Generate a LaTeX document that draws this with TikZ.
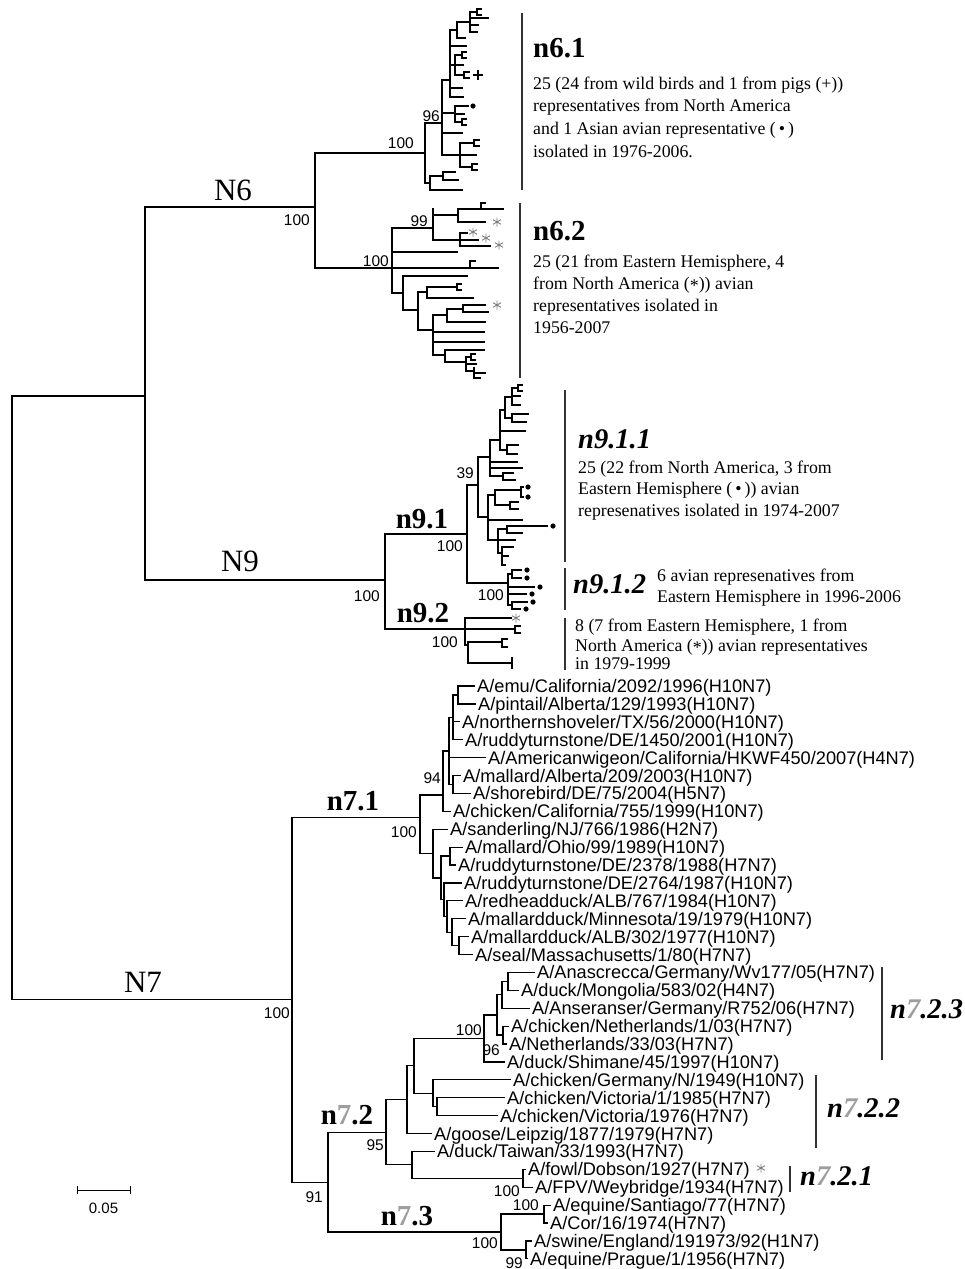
\documentclass[tikz,border=0pt]{standalone}
\usepackage{fontspec}
\setmainfont{Liberation Serif}
\newfontfamily\lsans{Liberation Sans}
\newcommand\tvs[3]{\draw[tbr] (#1,#2) -- (#1,#3);}
\newcommand\ths[3]{\draw[tbr] (#1,#3) -- (#2,#3);}
\newcommand\tfork[3]{\draw[tbr] (#1,#2-3) -- (#1,#2+3); \draw[tbr] (#1,#2-3) -- (#1+#3,#2-3); \draw[tbr] (#1,#2+3) -- (#1+#3,#2+3);}
\newcommand\tdot[2]{\fill (#1,#2) circle (2.6pt);}
\newcommand\tast[2]{\draw[astr] (#1,#2) +(0,-4.5) -- +(0,4.5) +(-4,-2.3) -- +(4,2.3) +(-4,2.3) -- +(4,-2.3);}
\newcommand\gs{\textcolor{black!38}{7}}
\begin{document}
\begin{tikzpicture}[x=1pt,y=-1pt,
 tbr/.style={line width=1.2pt,line cap=rect},
 cbar/.style={line width=1.8pt,black!80},
 astr/.style={line width=0.9pt,black!50},
 leaflab/.style={font=\lsans\fontsize{18.2}{20}\selectfont,anchor=base west,inner sep=0pt},
 bstrap/.style={font=\lsans\fontsize{15.5}{17}\selectfont,anchor=base east,inner sep=0pt},
 desctxt/.style={font=\fontsize{17.8}{22}\selectfont,anchor=base west,inner sep=0pt},
 grplab/.style={font=\fontsize{31}{34}\selectfont,anchor=base,inner sep=0pt},
 cladelab/.style={font=\bfseries\fontsize{29}{32}\selectfont,anchor=base,inner sep=0pt},
 cladelabw/.style={cladelab,anchor=base west},
 italab/.style={font=\bfseries\itshape\fontsize{28.5}{32}\selectfont,anchor=base west,inner sep=0pt}]
\fill[white] (0,0) rectangle (965,1269);
\useasboundingbox (0,0) rectangle (965,1269);

% ---------- backbone ----------
\tvs{12}{396}{999.7}
\ths{12}{145}{396}
\tvs{145}{207}{580}
\ths{145}{315}{207}
\ths{145}{385}{580}
\ths{12}{292}{999.7}
\node[grplab] (N6) at (233,200) {N6};
\node[grplab] (N9) at (240,571) {N9};
\node[grplab] (N7) at (143,992) {N7};
\node[bstrap] at (310,225) {100};
\node[bstrap] at (380,601) {100};
\node[bstrap] at (290,1018) {100};

% ---------- N6 ----------
\tvs{315}{153}{268}
% n6.1
\ths{315}{425}{153}
\node[bstrap] at (414,148) {100};
\tvs{425}{123}{183}
\ths{425}{442}{123}
\node[bstrap] at (440,121) {96};
\tvs{442}{80}{155}
\ths{442}{460}{155}
\tvs{460}{143}{167}
\ths{460}{474}{143} \tfork{474}{143}{5}
\ths{460}{476}{155}
\ths{460}{472}{167} \tfork{472}{167}{5}
\ths{442}{462}{133}
\ths{442}{455}{113}
\tvs{455}{106}{122}
\ths{455}{468}{106} \tdot{473}{106}
\ths{455}{464}{114}
\ths{455}{462}{122} \tfork{462}{122}{4}
\ths{442}{450}{80}
\tvs{450}{30}{97}
\ths{450}{457}{30}
\tvs{457}{22}{38}
\ths{457}{470}{22}
\tvs{470}{12}{32}
\ths{470}{477}{12} \tfork{477}{12}{4}
\ths{470}{488}{18}
\ths{470}{478}{25}
\ths{470}{477}{32}
\ths{457}{465}{38}
\ths{450}{466}{46}
\ths{450}{455}{65}
\tvs{455}{55}{75}
\ths{455}{462}{55} \tfork{462}{55}{4}
\ths{455}{463}{65}
\ths{455}{464}{75} \tfork{464}{75}{5}
\draw[line width=1.1pt] (473,75) -- (483,75) (478,70) -- (478,80);
\ths{450}{462}{88}
\ths{450}{463}{97}
\ths{425}{430}{183}
\tvs{430}{176}{190}
\ths{430}{443}{176}
\tvs{443}{172}{180}
\ths{443}{455}{172}
\ths{443}{458}{180}
\ths{430}{462}{190}
% n6.2
\ths{315}{392}{268}
\node[bstrap] at (389,266) {100};
\tvs{392}{228}{293}
\ths{392}{433}{228}
\node[bstrap] at (428,226) {99};
\tvs{433}{209}{240}
\ths{433}{458}{215}
\tvs{458}{209}{222}
\ths{458}{481}{209}
\tvs{481}{203}{209}
\ths{481}{485}{203}
\ths{481}{503}{209}
\ths{458}{485}{222} \tast{497}{222}
\ths{433}{460}{240}
\tvs{460}{233}{246}
\ths{460}{467}{233} \tast{473}{232}
\ths{460}{478}{240} \tast{486}{238}
\ths{460}{490}{246} \tast{499}{245}
\ths{392}{457}{252}
\ths{392}{470}{268}
\tvs{470}{261}{268}
\ths{470}{475}{261}
\ths{470}{498}{268}
\ths{392}{403}{293}
\tvs{403}{276}{310}
\ths{403}{467}{276}
\ths{403}{418}{310}
\tvs{418}{292}{330}
\ths{418}{427}{292}
\tvs{427}{287}{298}
\ths{427}{457}{287} \tfork{457}{287}{4}
\ths{427}{473}{298}
\ths{418}{433}{330}
\tvs{433}{315}{355}
\ths{433}{447}{315}
\tvs{447}{309}{322}
\ths{447}{463}{309}
\tvs{463}{305}{312}
\ths{463}{485}{305} \tast{497}{305}
\ths{463}{488}{312}
\ths{447}{485}{322}
\ths{433}{484}{332}
\ths{433}{484}{342}
\ths{433}{445}{355}
\tvs{445}{350}{362}
\ths{445}{484}{350}
\ths{445}{466}{362}
\tvs{466}{357}{371}
\ths{466}{471}{357} \tfork{471}{357}{4}
\ths{466}{476}{364}
\ths{466}{474}{371}
\tvs{474}{368}{378}
\ths{474}{485}{373}
\ths{474}{480}{378}
% labels n6
\draw[cbar] (522,13) -- (522,190);
\draw[cbar] (520,203) -- (520,378);
\node[cladelabw] (n61) at (533,57) {n6.1};
\node[desctxt] at (533,89) {25 (24 from wild birds and 1 from pigs (+))};
\node[desctxt] at (533,111) {representatives from North America};
\node[desctxt] at (533,134) {and 1 Asian avian representative (\,•\,)};
\node[desctxt] at (533,157) {isolated in 1976-2006.};
\node[cladelabw] (n62) at (533,240) {n6.2};
\node[desctxt] at (533,267) {25 (21 from Eastern Hemisphere, 4};
\node[desctxt] at (533,289) {from North America (\raisebox{-0.3ex}{*})) avian};
\node[desctxt] at (533,311) {representatives isolated in};
\node[desctxt] at (533,333) {1956-2007};

% ---------- N9 ----------
\tvs{385}{534}{629}
\ths{385}{467}{534}
\node[cladelab] (n91) at (422,528) {n9.1};
\node[bstrap] at (463,551) {100};
\tvs{467}{485}{583}
\ths{467}{478}{485}
\node[bstrap] at (474,478) {39};
\tvs{478}{457}{517}
\ths{478}{490}{457}
\tvs{490}{440}{476}
\ths{490}{500}{440}
\tvs{500}{410}{450}
\ths{500}{505}{410}
\tvs{505}{397}{418}
\ths{505}{512}{397}
\tvs{512}{388}{405}
\ths{512}{518}{388} \tfork{518}{388}{4}
\ths{512}{520}{396}
\ths{512}{520}{405}
\ths{505}{512}{418}
\tvs{512}{414}{422}
\ths{512}{528}{414}
\ths{512}{526}{422}
\ths{500}{525}{431}
\ths{500}{507}{450}
\tvs{507}{445}{454}
\ths{507}{518}{445}
\ths{507}{517}{454}
\ths{490}{517}{462}
\ths{490}{522}{468}
\ths{490}{503}{476}
\tvs{503}{473}{480}
\ths{503}{513}{473}
\ths{503}{515}{480}
\ths{478}{488}{517}
\tvs{488}{495}{540}
\ths{488}{495}{495}
\tvs{495}{490}{505}
\ths{495}{521}{490}
\tvs{521}{487}{497}
\ths{521}{523}{487}
\ths{521}{523}{497}
\tdot{528}{487} \tdot{528}{497}
\ths{495}{510}{505}
\tvs{510}{502}{509}
\ths{510}{518}{502}
\ths{510}{518}{509}
\ths{488}{522}{520}
\ths{488}{498}{540}
\tvs{498}{529}{553}
\ths{498}{507}{529}
\tvs{507}{526}{533}
\ths{507}{547}{526} \tdot{553}{526}
\ths{507}{522}{533}
\ths{498}{515}{540}
\ths{498}{502}{553}
\tvs{502}{547}{565}
\ths{502}{513}{547}
\ths{502}{508}{556}
\ths{502}{505}{565}
% n9.1.2
\ths{467}{508}{583}
\node[bstrap] at (504,600) {100};
\tvs{508}{574}{605}
\ths{508}{512}{574}
\tvs{512}{570}{578}
\ths{512}{521}{570}
\ths{512}{521}{578}
\tdot{527}{570} \tdot{527}{578}
\ths{508}{534}{587} \tdot{540}{587}
\ths{508}{526}{594} \tdot{532}{594}
\ths{508}{512}{605}
\tvs{512}{602}{609}
\ths{512}{527}{602}
\ths{512}{520}{609}
\tdot{533}{602} \tdot{526}{609}
% n9.2
\ths{385}{465}{629}
\node[cladelab] (n92) at (423,622) {n9.2};
\node[bstrap] at (458,647) {100};
\tvs{465}{618}{645}
\ths{465}{511}{618} \tast{516}{618}
\ths{465}{515}{629}
\tvs{515}{626}{633}
\ths{515}{520}{626}
\ths{515}{520}{633}
\ths{465}{468}{645}
\tvs{468}{642}{663}
\ths{468}{502}{642}
\tvs{502}{639}{647}
\ths{502}{507}{639}
\ths{502}{507}{647}
\ths{468}{512}{663}
\tvs{512}{658}{668}
% labels n9
\draw[cbar] (565,390) -- (565,562);
\draw[cbar] (565,568) -- (565,610);
\draw[cbar] (565,618) -- (565,670);
\node[italab] (n911) at (578,448) {n9.1.1};
\node[desctxt] at (578,473) {25 (22 from North America, 3 from};
\node[desctxt] at (578,494) {Eastern Hemisphere (\,•\,)) avian};
\node[desctxt] at (578,516) {represenatives isolated in 1974-2007};
\node[italab] (n912) at (573,593) {n9.1.2};
\node[desctxt] at (657,581) {6 avian represenatives from};
\node[desctxt] at (657,602) {Eastern Hemisphere in 1996-2006};
\node[desctxt] at (575,631) {8 (7 from Eastern Hemisphere, 1 from};
\node[desctxt] at (575,651) {North America (\raisebox{-0.3ex}{*})) avian representatives};
\node[desctxt] at (575,669) {in 1979-1999};

% ---------- N7 ----------
\tvs{292}{817.3}{1182.1}
% n7.1
\ths{292}{420}{817.3}
\node[cladelab] (n71) at (353,810) {n7.1};
\node[bstrap] at (417,837) {100};
\tvs{420}{795}{853.5}
\ths{420}{443}{795}
\node[bstrap] at (441,783) {94};
\tvs{443}{750.9}{811.3}
\ths{443}{449}{750.9}
\tvs{449}{717.3}{784.5}
\ths{449}{453}{717.3}
\tvs{453}{695}{739.7}
\ths{453}{458}{695}
\tvs{458}{686}{703.9}
\ths{458}{474}{686}
\ths{458}{475}{703.9}
\ths{453}{459}{721.8}
\ths{453}{462}{739.7}
\ths{449}{485}{757.6}
\ths{449}{453}{784.5}
\tvs{453}{775.5}{793.4}
\ths{453}{460}{775.5}
\ths{453}{470}{793.4}
\ths{443}{450}{811.3}
\ths{420}{433}{853.5}
\tvs{433}{829.2}{877.9}
\ths{433}{447}{829.2}
\ths{433}{441}{877.9}
\tvs{441}{856}{899.7}
\ths{441}{450}{856}
\tvs{450}{847.1}{865}
\ths{450}{462}{847.1}
\ths{450}{455}{865}
\ths{441}{444}{899.7}
\tvs{444}{882.9}{916.5}
\ths{444}{461}{882.9}
\ths{444}{447}{916.5}
\tvs{447}{900.8}{932.1}
\ths{447}{462}{900.8}
\ths{447}{452}{932.1}
\tvs{452}{918.7}{945.5}
\ths{452}{465}{918.7}
\ths{452}{459}{945.5}
\tvs{459}{936.6}{954.5}
\ths{459}{468}{936.6}
\ths{459}{472}{954.5}
% n7.2 / n7.3
\ths{292}{328}{1182.1}
\node[bstrap] at (323,1202) {91};
\tvs{328}{1132.2}{1232}
\ths{328}{386}{1132.2}
\node[cladelab] (n72) at (347,1124) {n\gs.2};
\node[bstrap] at (384,1150) {95};
\tvs{386}{1099.6}{1164.8}
\ths{386}{407}{1099.6}
\tvs{407}{1065.8}{1133.5}
\ths{407}{414}{1065.8}
\tvs{414}{1038.4}{1093.2}
\ths{414}{484}{1038.4}
\node[bstrap] at (482,1035) {100};
\tvs{484}{1014.9}{1061.9}
\ths{484}{497}{1014.9}
\node[bstrap] at (500,1055) {96};
\tvs{497}{994.7}{1035}
\ths{497}{502}{994.7}
\tvs{502}{981.3}{1008.2}
\ths{502}{508}{981.3}
\tvs{508}{972.4}{990.3}
\ths{508}{534}{972.4}
\ths{508}{518}{990.3}
\ths{502}{529}{1008.2}
\ths{497}{503}{1035}
\tvs{503}{1026.1}{1044}
\ths{503}{508}{1026.1}
\ths{503}{506}{1044}
\ths{484}{504}{1061.9}
\ths{414}{433}{1093.2}
\tvs{433}{1079.8}{1106.6}
\ths{433}{510}{1079.8}
\ths{433}{437}{1106.6}
\tvs{437}{1097.7}{1115.6}
\ths{437}{504}{1097.7}
\ths{437}{497}{1115.6}
\ths{407}{431}{1133.5}
\ths{386}{412}{1164.8}
\tvs{412}{1151.4}{1178.2}
\ths{412}{434}{1151.4}
\ths{412}{523}{1178.2}
\tvs{523}{1169.3}{1187.2}
\ths{523}{525}{1169.3}
\ths{523}{532}{1187.2}
\node[bstrap] at (520,1196) {100};
\ths{328}{501}{1232}
\node[cladelab] (n73) at (407,1225) {n\gs.3};
\node[bstrap] at (498,1248) {100};
\tvs{501}{1214}{1250}
\ths{501}{544}{1214}
\node[bstrap] at (539,1210) {100};
\tvs{544}{1205.1}{1223}
\ths{544}{550}{1205.1}
\ths{544}{547}{1223}
\ths{501}{526}{1250}
\node[bstrap] at (523,1268) {99};
\tvs{526}{1240.9}{1258.8}
\ths{526}{531}{1240.9}
\ths{526}{527}{1258.8}

% leaves
\node[leaflab] (l0) at (477,692.5) {A/emu/California/2092/1996(H10N7)};
\node[leaflab] (l1) at (478,710.4) {A/pintail/Alberta/129/1993(H10N7)};
\node[leaflab] (l2) at (462,728.3) {A/northernshoveler/TX/56/2000(H10N7)};
\node[leaflab] (l3) at (465,746.2) {A/ruddyturnstone/DE/1450/2001(H10N7)};
\node[leaflab] (l4) at (488,764.1) {A/Americanwigeon/California/HKWF450/2007(H4N7)};
\node[leaflab] (l5) at (463,782) {A/mallard/Alberta/209/2003(H10N7)};
\node[leaflab] (l6) at (473,799.9) {A/shorebird/DE/75/2004(H5N7)};
\node[leaflab] (l7) at (453,817.8) {A/chicken/California/755/1999(H10N7)};
\node[leaflab] (l8) at (450,835.7) {A/sanderling/NJ/766/1986(H2N7)};
\node[leaflab] (l9) at (465,853.6) {A/mallard/Ohio/99/1989(H10N7)};
\node[leaflab] (l10) at (458,871.5) {A/ruddyturnstone/DE/2378/1988(H7N7)};
\node[leaflab] (l11) at (464,889.4) {A/ruddyturnstone/DE/2764/1987(H10N7)};
\node[leaflab] (l12) at (465,907.3) {A/redheadduck/ALB/767/1984(H10N7)};
\node[leaflab] (l13) at (468,925.2) {A/mallardduck/Minnesota/19/1979(H10N7)};
\node[leaflab] (l14) at (471,943.1) {A/mallardduck/ALB/302/1977(H10N7)};
\node[leaflab] (l15) at (475,961) {A/seal/Massachusetts/1/80(H7N7)};
\node[leaflab] (l16) at (537,978.9) {A/Anascrecca/Germany/Wv177/05(H7N7)};
\node[leaflab] (l17) at (521,996.8) {A/duck/Mongolia/583/02(H4N7)};
\node[leaflab] (l18) at (532,1014.7) {A/Anseranser/Germany/R752/06(H7N7)};
\node[leaflab] (l19) at (511,1032.6) {A/chicken/Netherlands/1/03(H7N7)};
\node[leaflab] (l20) at (509,1050.5) {A/Netherlands/33/03(H7N7)};
\node[leaflab] (l21) at (507,1068.4) {A/duck/Shimane/45/1997(H10N7)};
\node[leaflab] (l22) at (513,1086.3) {A/chicken/Germany/N/1949(H10N7)};
\node[leaflab] (l23) at (507,1104.2) {A/chicken/Victoria/1/1985(H7N7)};
\node[leaflab] (l24) at (500,1122.1) {A/chicken/Victoria/1976(H7N7)};
\node[leaflab] (l25) at (434,1140) {A/goose/Leipzig/1877/1979(H7N7)};
\node[leaflab] (l26) at (437,1157.9) {A/duck/Taiwan/33/1993(H7N7)};
\node[leaflab] (l27) at (528,1175.8) {A/fowl/Dobson/1927(H7N7)};
\tast{761}{1168}
\node[leaflab] (l28) at (535,1193.7) {A/FPV/Weybridge/1934(H7N7)};
\node[leaflab] (l29) at (553,1211.6) {A/equine/Santiago/77(H7N7)};
\node[leaflab] (l30) at (550,1229.5) {A/Cor/16/1974(H7N7)};
\node[leaflab] (l31) at (534,1247.4) {A/swine/England/191973/92(H1N7)};
\node[leaflab] (l32) at (530,1265.3) {A/equine/Prague/1/1956(H7N7)};

% clade bars n7.2.x
\draw[cbar] (882,967) -- (882,1060);
\draw[cbar] (816,1075) -- (816,1148);
\draw[cbar] (790,1166) -- (790,1192);
\node[italab] (n723) at (890,1018) {n\gs.2.3};
\node[italab] (n722) at (827,1117) {n\gs.2.2};
\node[italab] (n721) at (800,1185) {n\gs.2.1};

% scale bar
\draw[line width=1pt] (77,1190) -- (130,1190) (77,1186) -- (77,1194) (130,1186) -- (130,1194);
\node[font=\lsans\fontsize{15}{17}\selectfont,anchor=base,inner sep=0pt] (sc) at (103.5,1213) {0.05};
\end{tikzpicture}
\end{document}
